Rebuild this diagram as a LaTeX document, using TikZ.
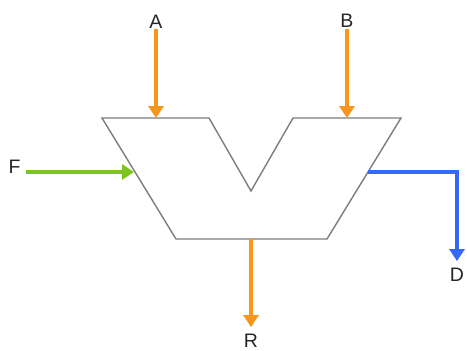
\documentclass[tikz,border=0pt]{standalone}
\usepackage{fontspec}
\setmainfont{Liberation Sans}
\usetikzlibrary{arrows.meta}
\definecolor{orng}{RGB}{247,150,28}
\definecolor{grn}{RGB}{126,196,32}
\definecolor{blu}{RGB}{50,105,250}
\definecolor{edge}{RGB}{125,125,125}
\tikzset{
  lbl/.style={inner sep=0pt, font=\fontsize{19.5}{19.5}\selectfont, text=black!85},
  alu/.style={draw=edge, line width=1.4pt, line join=miter, fill=white},
  sig/.style={line width=4pt, -{Triangle[length=12pt,width=15pt]}},
}
\begin{document}
\begin{tikzpicture}[x=1pt,y=-1pt]
\useasboundingbox (0,0) rectangle (467,351);
% ALU outline
\coordinate (tl) at (102,118);
\coordinate (til) at (209,118);
\coordinate (v) at (251,191);
\coordinate (tir) at (293,118);
\coordinate (tr) at (401,118);
\coordinate (br) at (327,239);
\coordinate (bl) at (176,239);
\draw[alu] (tl) -- (til) -- (v) -- (tir) -- (tr) -- (br) -- (bl) -- cycle;
% ports
\coordinate (ain) at (156,118);
\coordinate (bin) at (347,118);
\coordinate (fin) at (134,172);
\coordinate (dout) at (368,172);
\coordinate (rout) at (251,239);
% labels
\node[lbl] (A) at (156,21.5) {A};
\node[lbl] (B) at (347,20.5) {B};
\node[lbl] (F) at (14.5,166.5) {F};
\node[lbl] (D) at (457,274.5) {D};
\node[lbl] (R) at (251,341) {R};
% connectors
\draw[sig, orng, shorten <=1pt] (A.south) -- (ain);
\draw[sig, orng, shorten <=1.5pt] (B.south) -- (bin);
\draw[sig, grn, shorten <=5pt] (F.east |- fin) -- (fin);
\draw[sig, blu, shorten >=6.5pt] (dout) -| (D.north);
\draw[sig, orng, shorten >=7pt] (rout) -- (R.north);
\end{tikzpicture}
\end{document}
